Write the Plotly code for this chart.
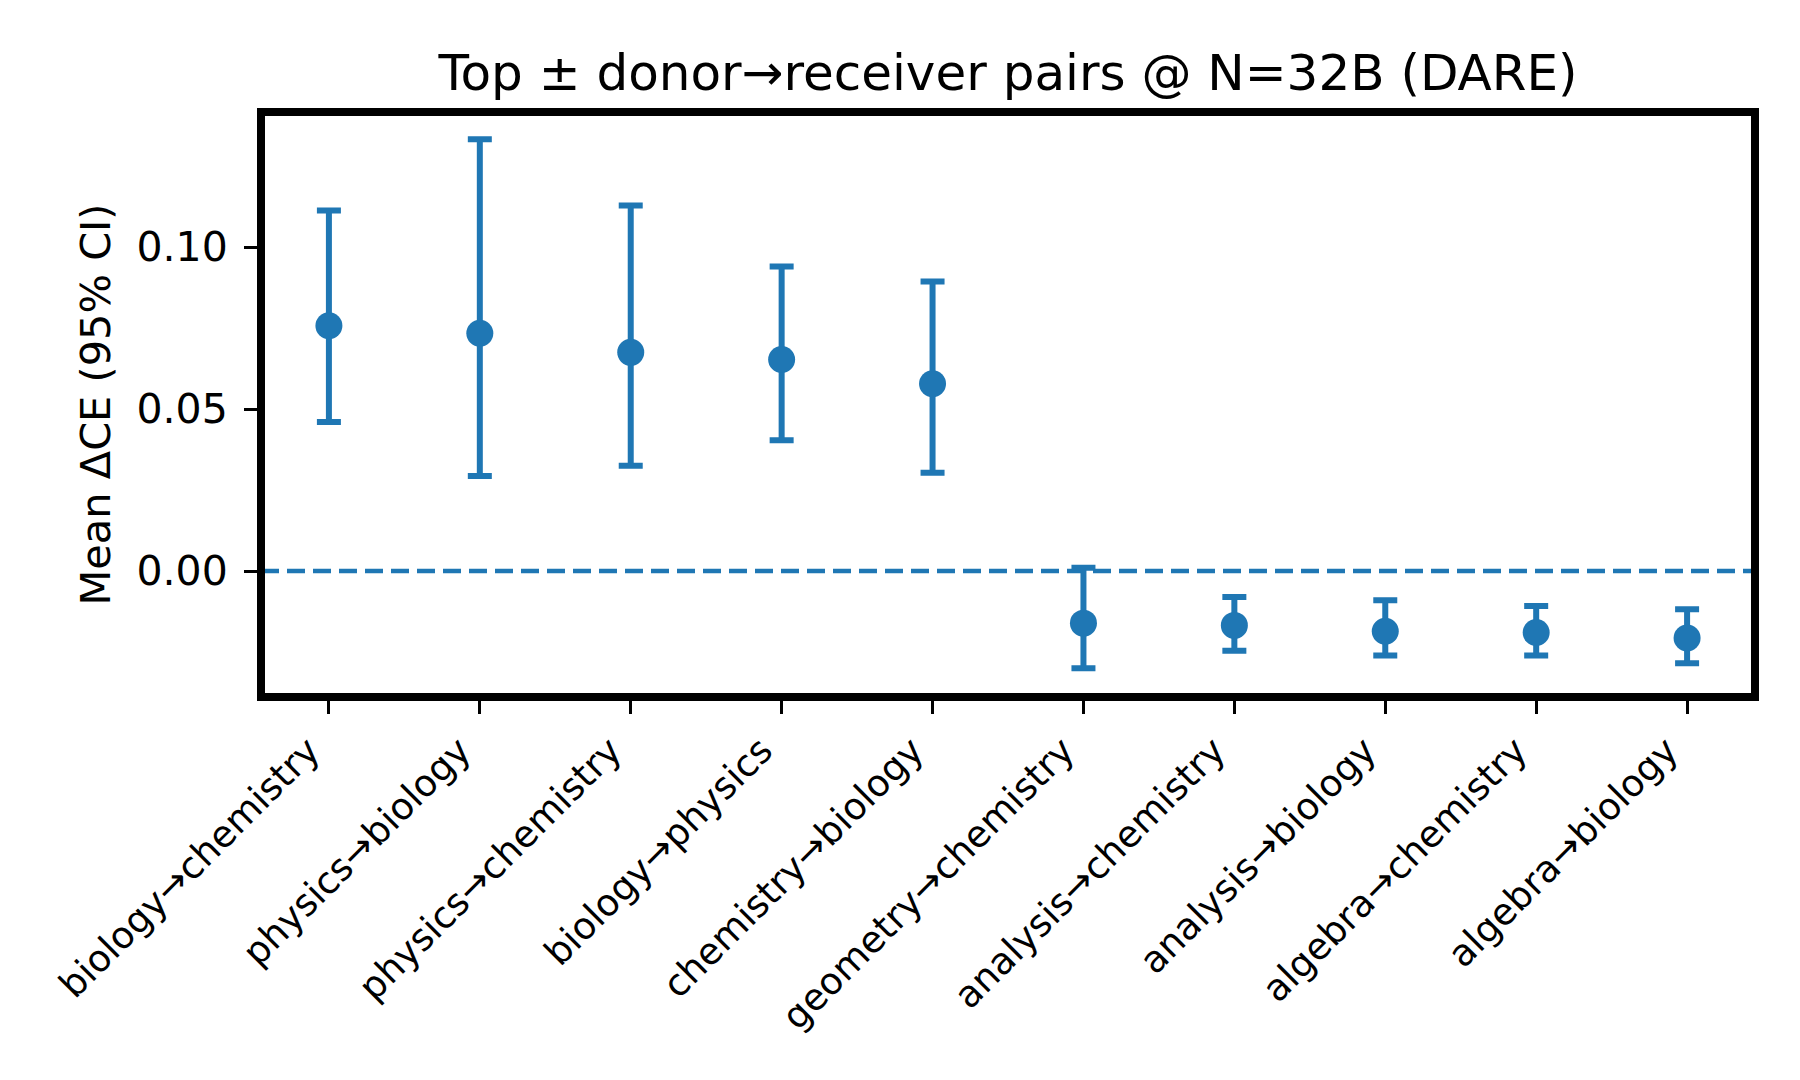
import plotly.graph_objects as go

pairs = ["biology→chemistry", "physics→biology", "physics→chemistry", "biology→physics",
         "chemistry→biology", "geometry→chemistry", "analysis→chemistry", "analysis→biology",
         "algebra→chemistry", "algebra→biology"]
mean_dce = [0.0757, 0.0734, 0.0675, 0.0653, 0.0578, -0.0161, -0.0168, -0.0186, -0.0190, -0.0207]
ci_upper = [0.1113, 0.1333, 0.1128, 0.0940, 0.0894, 0.0010, -0.0080, -0.0090, -0.0108, -0.0118]
ci_lower = [0.0460, 0.0293, 0.0325, 0.0404, 0.0303, -0.0300, -0.0246, -0.0261, -0.0261, -0.0285]
ytick_vals = [0.0, 0.05, 0.10]
ytick_text = ["0.00", "0.05", "0.10"]

BLUE = "#1f77b4"
FONT = "DejaVu Sans"

err_plus = [u - m for u, m in zip(ci_upper, mean_dce)]
err_minus = [m - l for m, l in zip(mean_dce, ci_lower)]

fig = go.Figure()
fig.add_trace(go.Scatter(
    x=list(range(len(pairs))), y=mean_dce, mode="markers",
    marker=dict(color=BLUE, size=27, line=dict(width=0)),
    error_y=dict(type="data", symmetric=False, array=err_plus, arrayminus=err_minus,
                 color=BLUE, thickness=6, width=12),
    showlegend=False,
))

# zero reference line
fig.add_shape(type="line", xref="paper", x0=0, x1=1, yref="y", y0=0, y1=0,
              line=dict(color=BLUE, width=4.5, dash="18px,8px"), layer="below")
# axes frame
fig.add_shape(type="rect", xref="paper", yref="paper", x0=0, x1=1, y0=0, y1=1,
              line=dict(color="black", width=8), layer="above")

fig.update_layout(
    width=1792, height=1072,
    margin=dict(l=253, r=45, t=104, b=383),
    paper_bgcolor="white", plot_bgcolor="white",
    font=dict(family=FONT, color="black"),
    title=dict(text="Top ± donor→receiver pairs @ N=32B (DARE)", x=0.5, xref="paper",
               xanchor="center", y=1 - 64 / 1072, yanchor="middle",
               font=dict(size=50, family=FONT, color="black")),
)
fig.update_xaxes(
    range=[-0.45, 9.45], tickmode="array", tickvals=list(range(len(pairs))), ticktext=pairs,
    tickangle=-45, ticks="outside", ticklen=16, tickwidth=3.3, tickcolor="black",
    tickfont=dict(size=37, family=FONT, color="black"), ticklabelshift=-20,
    showgrid=False, zeroline=False, showline=False,
)
fig.update_yaxes(
    range=[-0.0389, 0.1417], tickmode="array", tickvals=ytick_vals, ticktext=ytick_text,
    ticks="outside", ticklen=16, tickwidth=3.3, tickcolor="black",
    tickfont=dict(size=41, family=FONT, color="black"), ticklabelstandoff=8,
    title=dict(text="Mean ΔCE (95% CI)", font=dict(size=41.5, family=FONT, color="black"), standoff=12),
    showgrid=False, zeroline=False, showline=False,
)

fig.write_html("out.html")
